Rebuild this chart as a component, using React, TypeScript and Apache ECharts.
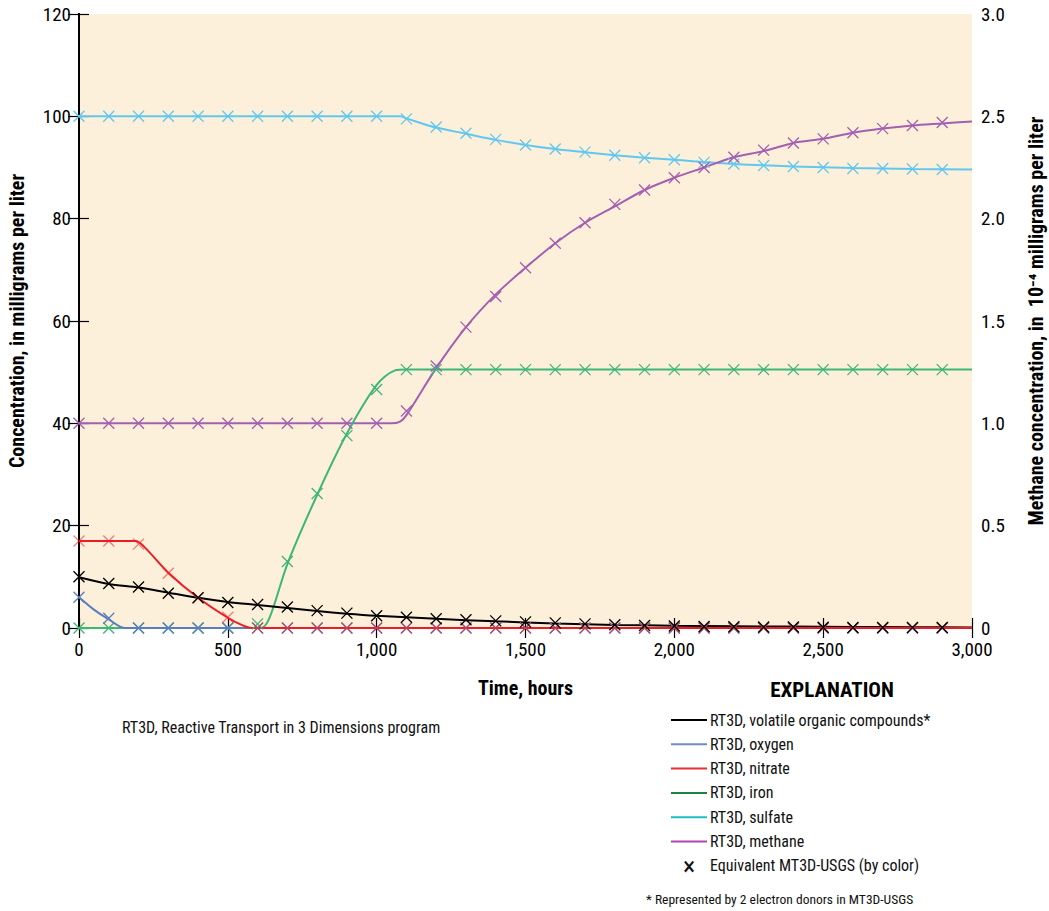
import React, { useEffect, useRef } from "react";
import * as echarts from "echarts";

// ---------- DATA ----------
// RT3D model lines (time in hours, value)
const vocLineT = [0, 100, 200, 300, 400, 500, 600, 700, 800, 900, 1000, 1200, 1400, 1600, 1800, 2000, 2200, 2400, 2600, 2800, 3000];
const vocLineV = [9.9, 8.6, 7.9, 6.9, 5.9, 5.1, 4.5, 3.9, 3.3, 2.8, 2.4, 1.8, 1.3, 0.9, 0.6, 0.45, 0.35, 0.28, 0.2, 0.15, 0.12];
const oxyLineT = [0, 50, 100, 155, 3000];
const oxyLineV = [6.0, 3.6, 1.7, 0, 0];
const nitLineT = [0, 190, 220, 300, 400, 500, 550, 580, 3000];
const nitLineV = [17, 17, 15.8, 10.8, 5.9, 2.0, 0.5, 0, 0];
const ironLineT = [0, 610, 640, 700, 800, 900, 1000, 1060, 1100, 3000];
const ironLineV = [0, 0, 2, 12.5, 26, 38, 47.5, 50.3, 50.5, 50.5];
const sulfLineT = [0, 1080, 1100, 1200, 1300, 1400, 1500, 1600, 1700, 1800, 1900, 2000, 2200, 2400, 2600, 2800, 3000];
const sulfLineV = [100, 100, 99.6, 97.8, 96.6, 95.4, 94.4, 93.6, 93.0, 92.4, 91.9, 91.5, 90.7, 90.2, 89.9, 89.7, 89.6];
const methLineT = [0, 1050, 1080, 1100, 1200, 1300, 1400, 1500, 1600, 1700, 1800, 1900, 2000, 2100, 2200, 2300, 2400, 2500, 2600, 2700, 2800, 2900, 3000];
const methLineV = [1.0, 1.0, 1.01, 1.04, 1.27, 1.47, 1.63, 1.76, 1.88, 1.98, 2.06, 2.14, 2.2, 2.25, 2.3, 2.33, 2.37, 2.39, 2.42, 2.44, 2.455, 2.465, 2.475];

// MT3D-USGS markers, every 100 hours from 0 to 2900
const markerT = [0, 100, 200, 300, 400, 500, 600, 700, 800, 900, 1000, 1100, 1200, 1300, 1400, 1500, 1600, 1700, 1800, 1900, 2000, 2100, 2200, 2300, 2400, 2500, 2600, 2700, 2800, 2900];
const vocMk = [10, 8.7, 8.0, 6.8, 5.9, 5.0, 4.6, 4.1, 3.4, 2.9, 2.4, 2.1, 1.8, 1.6, 1.4, 1.2, 1.0, 0.8, 0.65, 0.5, 0.4, 0.3, 0.25, 0.2, 0.2, 0.15, 0.1, 0.1, 0.1, 0.1];
const oxyMk = [6.0, 1.9, 0, 0, 0, 0, 0, 0, 0, 0, 0, 0, 0, 0, 0, 0, 0, 0, 0, 0, 0, 0, 0, 0, 0, 0, 0, 0, 0, 0];
const nitMk = [17, 17, 16.4, 10.7, 5.9, 2.1, 0, 0, 0, 0, 0, 0, 0, 0, 0, 0, 0, 0, 0, 0, 0, 0, 0, 0, 0, 0, 0, 0, 0, 0];
const ironMk = [0, 0, 0, 0, 0, 0, 0.8, 13.0, 26.3, 37.6, 46.6, 50.5, 50.5, 50.5, 50.5, 50.5, 50.5, 50.5, 50.5, 50.5, 50.5, 50.5, 50.5, 50.5, 50.5, 50.5, 50.5, 50.5, 50.5, 50.5];
const sulfMk = [100, 100, 100, 100, 100, 100, 100, 100, 100, 100, 100, 99.5, 97.9, 96.7, 95.5, 94.4, 93.6, 93.0, 92.4, 91.9, 91.5, 91.0, 90.7, 90.4, 90.2, 90.0, 89.8, 89.8, 89.7, 89.6];
const methMk = [1.0, 1.0, 1.0, 1.0, 1.0, 1.0, 1.0, 1.0, 1.0, 1.0, 1.0, 1.06, 1.28, 1.47, 1.62, 1.76, 1.88, 1.98, 2.07, 2.14, 2.2, 2.25, 2.3, 2.335, 2.37, 2.39, 2.42, 2.44, 2.455, 2.47];

const legendLabels = [
  "RT3D, volatile organic compounds*",
  "RT3D, oxygen",
  "RT3D, nitrate",
  "RT3D, iron",
  "RT3D, sulfate",
  "RT3D, methane",
];
const legendMarkerLabel = "Equivalent MT3D-USGS (by color)";

// ---------- STYLE ----------
const FONT = "'Liberation Sans Narrow', 'Roboto Condensed', 'DejaVu Sans Condensed', sans-serif";
const C = {
  voc: "#000000",
  oxy: "#5b7dc0",
  nit: "#ed1c24",
  iron: "#3db678",
  sulf: "#62c7ef",
  meth: "#a35fb0",
};
const legendColors = ["#000000", "#6f8bc9", "#ee2d34", "#1a8443", "#1fbfc4", "#b347ad"];
const XSYM = "path://M0,0L10,10M10,0L0,10";

const pairs = (t: number[], v: number[]) => t.map((x, i) => [x, v[i]]);

function lineSeries(name: string, t: number[], v: number[], color: string, yIdx = 0) {
  return {
    name,
    type: "line",
    yAxisIndex: yIdx,
    data: pairs(t, v),
    showSymbol: false,
    symbol: "none",
    smooth: 0.3,
    lineStyle: { color, width: 2 },
    z: 3,
  };
}
function markerSeries(name: string, v: number[], color: string, yIdx = 0, opacity = 1) {
  return {
    name,
    type: "scatter",
    yAxisIndex: yIdx,
    data: pairs(markerT, v),
    symbol: XSYM,
    symbolSize: 11,
    itemStyle: { color: "rgba(0,0,0,0)", borderColor: color, borderWidth: 1.3, opacity },
    z: 4,
  };
}

export default function App() {
  const ref = useRef<HTMLDivElement>(null);
  useEffect(() => {
    if (!ref.current) return;
    const chart = echarts.init(ref.current, undefined, { renderer: "svg" });

    const legendGraphics: any[] = [];
    const lx = 671;
    const ly0 = 720;
    const dy = 24.3;
    legendLabels.forEach((lab, i) => {
      const y = ly0 + i * dy;
      legendGraphics.push({
        type: "line",
        shape: { x1: lx, y1: y, x2: lx + 36, y2: y },
        style: { stroke: legendColors[i], lineWidth: 2 },
      });
      legendGraphics.push({
        type: "text",
        x: lx + 39,
        y,
        style: { text: lab, font: `16px ${FONT}`, fill: "#111", verticalAlign: "middle" },
      });
    });
    const my = ly0 + 6 * dy;
    legendGraphics.push({
      type: "text",
      x: 689,
      y: my,
      style: { text: "\u00d7", font: `26px ${FONT}`, fill: "#111", align: "center", verticalAlign: "middle" },
    });
    legendGraphics.push({
      type: "text",
      x: lx + 39,
      y: my,
      style: { text: legendMarkerLabel, font: `16px ${FONT}`, fill: "#111", verticalAlign: "middle" },
    });

    const option: any = {
      animation: false,
      backgroundColor: "#ffffff",
      textStyle: { fontFamily: FONT },
      grid: {
        left: 79,
        right: 77,
        top: 14,
        bottom: 283,
        outerBoundsMode: "none",
        containLabel: false,
        show: true,
        backgroundColor: "#fdf0da",
        borderColor: "#000",
        borderWidth: 0,
      },
      xAxis: [
        {
          type: "value",
          min: 0,
          max: 3000,
          interval: 500,
          position: "bottom",
          name: "Time, hours",
          nameLocation: "middle",
          nameGap: 50,
          nameTextStyle: { fontFamily: FONT, fontSize: 20, fontWeight: "bold", color: "#000" },
          axisLine: { show: true, lineStyle: { color: "#000", width: 2 } },
          axisTick: { show: true, inside: true, length: 10, lineStyle: { color: "#000", width: 1.2 } },
          axisLabel: {
            fontFamily: FONT,
            fontSize: 19,
            lineHeight: 17,
            color: "#000",
            margin: 13,
            formatter: (v: number) => v.toLocaleString("en-US"),
          },
          splitLine: { show: false },
        },
        {
          type: "value",
          min: 0,
          max: 3000,
          interval: 500,
          position: "top",
          axisLine: { show: true, lineStyle: { color: "#000", width: 2 } },
          axisTick: { show: true, inside: true, length: 10, lineStyle: { color: "#000", width: 1.2 } },
          axisLabel: { show: false },
          splitLine: { show: false },
        },
      ],
      yAxis: [
        {
          type: "value",
          min: 0,
          max: 120,
          interval: 20,
          position: "left",
          name: "Concentration, in milligrams per liter",
          nameLocation: "middle",
          nameGap: 52,
          nameTextStyle: { fontFamily: FONT, fontSize: 20, fontWeight: "bold", color: "#000" },
          axisLine: { show: true, lineStyle: { color: "#000", width: 2 } },
          axisTick: { show: true, inside: true, length: 10, lineStyle: { color: "#000", width: 1.2 } },
          axisLabel: { fontFamily: FONT, fontSize: 19, lineHeight: 19, color: "#000", margin: 8 },
          splitLine: { show: false },
        },
        {
          type: "value",
          min: 0,
          max: 3,
          interval: 0.5,
          position: "right",
          name: "Methane concentration, in  10\u207b\u2074 milligrams per liter",
          nameLocation: "middle",
          nameGap: 54,
          nameTextStyle: { fontFamily: FONT, fontSize: 20, fontWeight: "bold", color: "#000" },
          axisLine: { show: true, lineStyle: { color: "#000", width: 2 } },
          axisTick: { show: true, inside: true, length: 11, lineStyle: { color: "#000", width: 1.2 } },
          axisLabel: {
            fontFamily: FONT,
            fontSize: 19,
            lineHeight: 15,
            color: "#000",
            margin: 9,
            padding: [0, 0, 10, 0],
            formatter: (v: number) => (v === 0 ? "0" : v.toFixed(1)),
          },
          splitLine: { show: false },
        },
      ],
      series: [
        lineSeries("RT3D, sulfate", sulfLineT, sulfLineV, C.sulf),
        lineSeries("RT3D, methane", methLineT, methLineV, C.meth, 1),
        lineSeries("RT3D, iron", ironLineT, ironLineV, C.iron),
        lineSeries("RT3D, volatile organic compounds", vocLineT, vocLineV, C.voc),
        lineSeries("RT3D, oxygen", oxyLineT, oxyLineV, C.oxy),
        lineSeries("RT3D, nitrate", nitLineT, nitLineV, C.nit),
        markerSeries("MT3D sulfate", sulfMk, C.sulf),
        markerSeries("MT3D methane", methMk, C.meth, 1),
        markerSeries("MT3D iron", ironMk, C.iron),
        markerSeries("MT3D oxygen", oxyMk, C.oxy),
        markerSeries("MT3D nitrate", nitMk, C.nit, 0, 0.55),
        markerSeries("MT3D volatile organic compounds", vocMk, C.voc),
      ],
      graphic: [
        {
          type: "text",
          x: 122,
          y: 727,
          style: { text: "RT3D, Reactive Transport in 3 Dimensions program", font: `16px ${FONT}`, fill: "#111", verticalAlign: "middle" },
        },
        {
          type: "text",
          x: 832,
          y: 690,
          style: { text: "EXPLANATION", font: `bold 21px ${FONT}`, fill: "#000", align: "center", verticalAlign: "middle" },
        },
        ...legendGraphics,
        {
          type: "text",
          x: 646,
          y: 899,
          style: { text: "* Represented by 2 electron donors in MT3D-USGS", font: `13.5px ${FONT}`, fill: "#111", verticalAlign: "middle" },
        },
      ],
    };
    chart.setOption(option);
    return () => chart.dispose();
  }, []);
  return <div ref={ref} style={{ width: 1049, height: 911, position: "absolute", left: 0, top: 0 }} />;
}
